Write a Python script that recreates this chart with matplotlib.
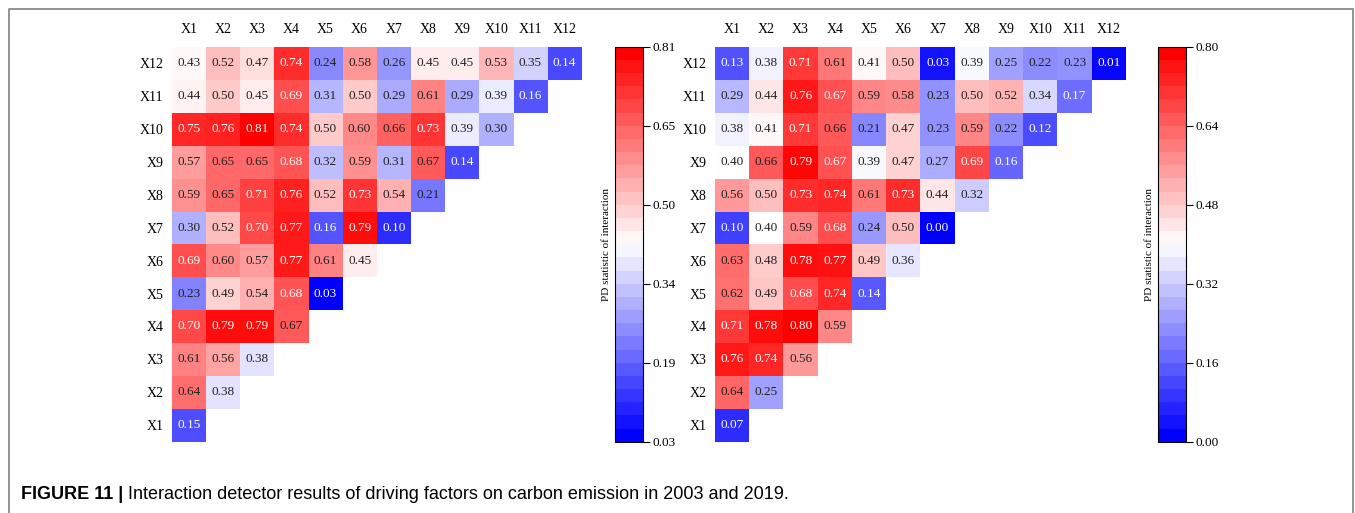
import numpy as np
import matplotlib.pyplot as plt
from matplotlib.lines import Line2D
from matplotlib.cm import ScalarMappable
from matplotlib.colors import Normalize

factors = ["X1", "X2", "X3", "X4", "X5", "X6", "X7", "X8", "X9", "X10", "X11", "X12"]

# rows from X12 (top) down to X1, each row holds columns X1..Xi
pd_2003 = [
    [0.43, 0.52, 0.47, 0.74, 0.24, 0.58, 0.26, 0.45, 0.45, 0.53, 0.35, 0.14],
    [0.44, 0.50, 0.45, 0.69, 0.31, 0.50, 0.29, 0.61, 0.29, 0.39, 0.16],
    [0.75, 0.76, 0.81, 0.74, 0.50, 0.60, 0.66, 0.73, 0.39, 0.30],
    [0.57, 0.65, 0.65, 0.68, 0.32, 0.59, 0.31, 0.67, 0.14],
    [0.59, 0.65, 0.71, 0.76, 0.52, 0.73, 0.54, 0.21],
    [0.30, 0.52, 0.70, 0.77, 0.16, 0.79, 0.10],
    [0.69, 0.60, 0.57, 0.77, 0.61, 0.45],
    [0.23, 0.49, 0.54, 0.68, 0.03],
    [0.70, 0.79, 0.79, 0.67],
    [0.61, 0.56, 0.38],
    [0.64, 0.38],
    [0.15],
]

pd_2019 = [
    [0.13, 0.38, 0.71, 0.61, 0.41, 0.50, 0.03, 0.39, 0.25, 0.22, 0.23, 0.01],
    [0.29, 0.44, 0.76, 0.67, 0.59, 0.58, 0.23, 0.50, 0.52, 0.34, 0.17],
    [0.38, 0.41, 0.71, 0.66, 0.21, 0.47, 0.23, 0.59, 0.22, 0.12],
    [0.40, 0.66, 0.79, 0.67, 0.39, 0.47, 0.27, 0.69, 0.16],
    [0.56, 0.50, 0.73, 0.74, 0.61, 0.73, 0.44, 0.32],
    [0.10, 0.40, 0.59, 0.68, 0.24, 0.50, 0.00],
    [0.63, 0.48, 0.78, 0.77, 0.49, 0.36],
    [0.62, 0.49, 0.68, 0.74, 0.14],
    [0.71, 0.78, 0.80, 0.59],
    [0.76, 0.74, 0.56],
    [0.64, 0.25],
    [0.07],
]

caption_bold = "FIGURE 11 |"
caption_rest = " Interaction detector results of driving factors on carbon emission in 2003 and 2019."

plt.rcParams['font.family'] = ['Liberation Serif', 'DejaVu Serif']

W, H = 1355, 513
fig = plt.figure(figsize=(W / 100, H / 100), dpi=100)


def fx(px):
    return px / W


def fy(py):
    return 1 - py / H


def to_matrix(rows):
    n = len(rows)
    m = np.full((n, n), np.nan)
    for i, r in enumerate(rows):
        m[i, :len(r)] = r
    return m


def draw_panel(rows, ax_box, cb_box):
    data = to_matrix(rows)
    vmin, vmax = np.nanmin(data), np.nanmax(data)
    norm = Normalize(vmin, vmax)
    ax = fig.add_axes(ax_box)
    ax.imshow(np.ma.masked_invalid(data), cmap='bwr', norm=norm,
              aspect='auto', interpolation='nearest')
    n = len(factors)
    for i in range(n):
        for j in range(n):
            v = data[i, j]
            if np.isnan(v):
                continue
            t = norm(v)
            col = 'white' if (t < 0.22 or t > 0.83) else '#222222'
            ax.text(j, i, "%.2f" % v, ha='center', va='center',
                    fontsize=9.5, color=col)
    ax.set_xticks(range(n))
    ax.set_xticklabels(factors)
    ax.set_yticks(range(n))
    ax.set_yticklabels(factors[::-1])
    ax.xaxis.tick_top()
    ax.tick_params(axis='x', length=0, pad=8, labelsize=10)
    ax.tick_params(axis='y', length=0, pad=6, labelsize=10)
    for s in ax.spines.values():
        s.set_visible(False)

    cax = fig.add_axes(cb_box)
    sm = ScalarMappable(norm=norm, cmap=plt.get_cmap('bwr', 30))
    cb = fig.colorbar(sm, cax=cax)
    cb.set_ticks(np.linspace(vmin, vmax, 6))
    cb.ax.set_yticklabels(["%.2f" % t for t in np.linspace(vmin, vmax, 6)])
    cb.ax.tick_params(labelsize=9.5, length=5, width=0.8, pad=2)
    cb.outline.set_linewidth(0.8)
    cb.ax.yaxis.set_label_position('left')
    cb.set_label("PD statistic of interaction", fontsize=8, labelpad=3)


top, bot = 46.7, 441.7
draw_panel(pd_2003,
           [fx(171.7), fy(bot), fx(410), (bot - top) / H],
           [fx(615), fy(bot), fx(28), (bot - top) / H])
draw_panel(pd_2019,
           [fx(715), fy(bot), fx(411), (bot - top) / H],
           [fx(1158), fy(bot), fx(28), (bot - top) / H])

# frame around the figure panel
frame = Line2D([fx(9), fx(9), fx(1353), fx(1353)], [0, fy(9), fy(9), 0],
               transform=fig.transFigure, color='#8a8a8a', lw=1.3)
fig.add_artist(frame)

# caption
t1 = fig.text(fx(21), fy(499), caption_bold, fontsize=13, fontweight='bold',
              family=['Liberation Sans', 'DejaVu Sans'], va='baseline')
fig.canvas.draw()
bb = t1.get_window_extent()
fig.text(bb.x1 / W, fy(499), caption_rest, fontsize=13,
         family=['Liberation Sans', 'DejaVu Sans'], va='baseline')

fig.savefig('out.png', dpi=100)
